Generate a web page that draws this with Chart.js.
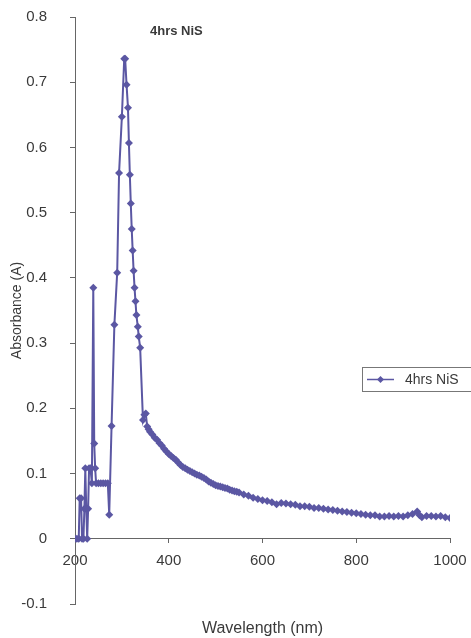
<!DOCTYPE html>
<html lang="en">
<head>
    <meta charset="UTF-8">
    <title>4hrs NiS absorbance</title>
    <style>
        body { margin: 0; background: #fff; }
        #chart { display: block; }
    </style>
</head>
<body>
<canvas id="chart" width="471" height="638"></canvas>

<script src="https://cdn.jsdelivr.net/npm/chart.js"></script>
<script>
    // wavelength (nm) and absorbance (A)
    const wavelength = [
        200, 204, 208, 210, 213, 215, 218, 220, 222, 224, 226, 228, 230, 233, 236, 239, 241, 243, 245,
        250, 255, 260, 265, 270, 273, 278, 284, 290, 294, 300, 305, 307, 310, 313, 315, 317, 319, 321,
        323, 325, 327, 329, 331, 334, 336, 339, 345, 348, 351, 354, 357, 360, 365, 370, 375, 380, 385,
        390, 395, 400, 405, 410, 415, 420, 425, 430, 435, 440, 445, 450, 455, 460, 465, 470, 475, 480,
        485, 490, 495, 500, 505, 510, 515, 520, 525, 530, 535, 540, 545, 550, 560,
        570, 580, 590, 600, 610, 620, 630, 640, 650, 660, 670, 680, 690, 700, 710, 720, 730, 740, 750,
        760, 770, 780, 790, 800, 810, 820, 830, 840, 850, 860, 870, 880, 890, 900, 910, 920, 930, 935,
        940, 950, 960, 970, 980, 990, 1000
    ];
    const absorbance = [
        0, 0, 0, 0.062, 0.062, 0, 0, 0.046, 0.108, 0.046, 0, 0.046, 0.108, 0.108, 0.085, 0.385, 0.146, 0.108, 0.085,
        0.085, 0.085, 0.085, 0.085, 0.085, 0.037, 0.173, 0.328, 0.408, 0.561, 0.647, 0.736, 0.736, 0.696, 0.661, 0.607, 0.558, 0.514, 0.475,
        0.442, 0.411, 0.385, 0.364, 0.343, 0.325, 0.310, 0.293, 0.182, 0.190, 0.192, 0.172, 0.168, 0.164, 0.160, 0.155, 0.152, 0.147, 0.143,
        0.138, 0.134, 0.130, 0.127, 0.124, 0.121, 0.117, 0.113, 0.110, 0.108, 0.106, 0.104, 0.102, 0.100, 0.098, 0.097, 0.095, 0.093, 0.091,
        0.088, 0.086, 0.084, 0.082, 0.081, 0.080, 0.079, 0.078, 0.077, 0.075, 0.074, 0.073, 0.072, 0.071, 0.068,
        0.066, 0.063, 0.061, 0.059, 0.058, 0.056, 0.053, 0.055, 0.054, 0.053, 0.052, 0.050, 0.050, 0.049, 0.047, 0.047, 0.046, 0.045, 0.044,
        0.043, 0.042, 0.041, 0.040, 0.039, 0.038, 0.037, 0.036, 0.036, 0.034, 0.034, 0.035, 0.034, 0.035, 0.034, 0.036, 0.038, 0.042, 0.036,
        0.033, 0.035, 0.035, 0.034, 0.035, 0.033, 0.032
    ];
    const seriesName = '4hrs NiS';
    const xTicks = [200, 400, 600, 800, 1000];
    const yTicks = [-0.1, 0, 0.1, 0.2, 0.3, 0.4, 0.5, 0.6, 0.7, 0.8];

    const lineColor = '#5b57a3';
    const textColor = '#3a3a3a';
    const axisColor = '#666';
    const fontFamily = '"Liberation Sans", Arial, sans-serif';

    // title, x axis title and the legend box are drawn by hand
    const extras = {
        id: 'extras',
        afterDraw(chart) {
            const ctx = chart.ctx;
            const area = chart.chartArea;
            ctx.save();
            ctx.fillStyle = textColor;
            ctx.textBaseline = 'middle';

            ctx.font = 'bold 13px ' + fontFamily;
            ctx.textAlign = 'left';
            ctx.fillText(seriesName, 150, 31);

            ctx.font = '16px ' + fontFamily;
            ctx.textAlign = 'center';
            ctx.fillText('Wavelength (nm)', (area.left + area.right) / 2, 629);

            // legend
            ctx.strokeStyle = '#777';
            ctx.lineWidth = 1;
            ctx.strokeRect(362.5, 367.5, 120, 24);
            ctx.strokeStyle = lineColor;
            ctx.lineWidth = 1.5;
            ctx.beginPath();
            ctx.moveTo(367, 379.5);
            ctx.lineTo(394, 379.5);
            ctx.stroke();
            ctx.fillStyle = lineColor;
            ctx.beginPath();
            ctx.moveTo(380.5, 376);
            ctx.lineTo(384, 379.5);
            ctx.lineTo(380.5, 383);
            ctx.lineTo(377, 379.5);
            ctx.closePath();
            ctx.fill();
            ctx.fillStyle = textColor;
            ctx.font = '14px ' + fontFamily;
            ctx.textAlign = 'left';
            ctx.fillText(seriesName, 405, 380);
            ctx.restore();
        }
    };

    const points = wavelength.map((w, i) => ({ x: w, y: absorbance[i] }));

    new Chart(document.getElementById('chart'), {
        type: 'line',
        data: {
            datasets: [{
                label: seriesName,
                data: points,
                borderColor: lineColor,
                backgroundColor: lineColor,
                borderWidth: 2,
                pointStyle: 'rectRot',
                pointRadius: 4,
                pointBorderWidth: 0,
                tension: 0,
                fill: false
            }]
        },
        options: {
            responsive: false,
            animation: false,
            devicePixelRatio: 1,
            layout: { padding: { top: 17, bottom: 34, right: 21, left: 0 } },
            plugins: {
                legend: { display: false },
                tooltip: { enabled: false }
            },
            scales: {
                x: {
                    type: 'linear',
                    position: { y: 0 },
                    min: 200,
                    max: 1000,
                    afterBuildTicks: s => { s.ticks = xTicks.map(v => ({ value: v })); },
                    // keep the label overhang from pushing the plot edges
                    afterFit: s => { s.paddingLeft = 0; s.paddingRight = 0; },
                    grid: { drawOnChartArea: false, drawTicks: true, tickLength: 4, color: axisColor },
                    border: { display: true, color: axisColor, width: 1 },
                    ticks: {
                        color: textColor,
                        padding: 9,
                        autoSkip: false,
                        maxRotation: 0,
                        callback: v => String(v),
                        font: { family: fontFamily, size: 15 }
                    }
                },
                y: {
                    min: -0.1,
                    max: 0.8,
                    afterFit: s => { s.width = 75; s.paddingTop = 0; s.paddingBottom = 0; },
                    afterBuildTicks: s => { s.ticks = yTicks.map(v => ({ value: v })); },
                    grid: { drawOnChartArea: false, drawTicks: true, tickLength: 5, color: axisColor },
                    border: { display: true, color: axisColor, width: 1 },
                    title: {
                        display: true,
                        text: 'Absorbance (A)',
                        color: textColor,
                        padding: { top: 9, bottom: 0 },
                        font: { family: fontFamily, size: 14 }
                    },
                    ticks: {
                        color: textColor,
                        padding: 23,
                        autoSkip: false,
                        callback: v => Math.abs(v) < 1e-9 ? '0' : String(Math.round(v * 10) / 10),
                        font: { family: fontFamily, size: 15 }
                    }
                }
            }
        },
        plugins: [extras]
    });
</script>
</body>
</html>
